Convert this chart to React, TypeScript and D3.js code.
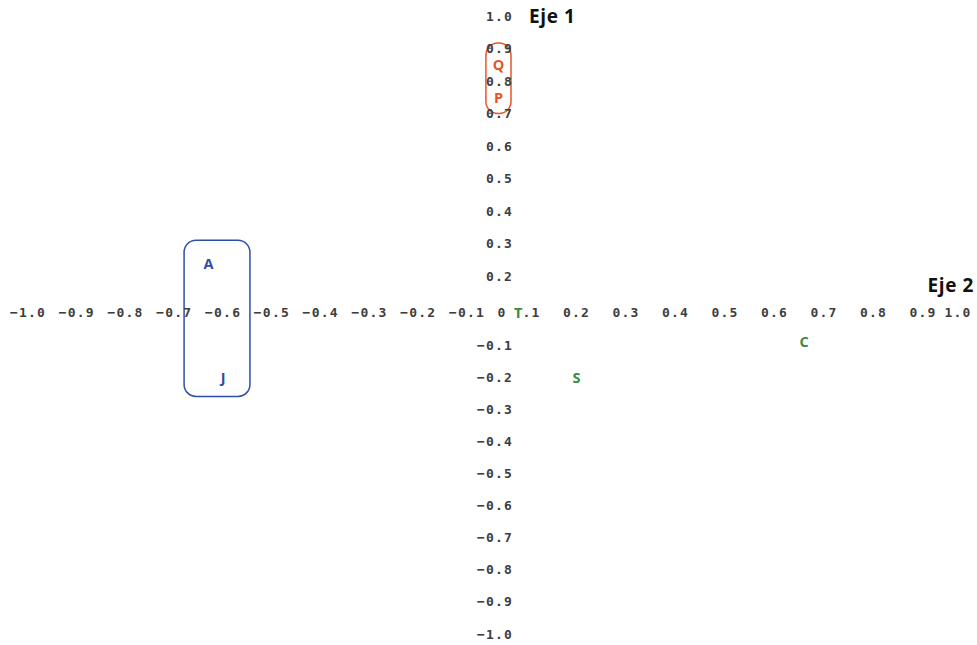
import React from 'react'
import * as d3 from 'd3'

// tick values shown on each axis (the y axis skips 0.1 and 0, which sit on the x row)
const xTicks = [-1.0, -0.9, -0.8, -0.7, -0.6, -0.5, -0.4, -0.3, -0.2, -0.1, 0, 0.1, 0.2, 0.3, 0.4, 0.5, 0.6, 0.7, 0.8, 0.9, 1.0]
const yTicks = [1.0, 0.9, 0.8, 0.7, 0.6, 0.5, 0.4, 0.3, 0.2, -0.1, -0.2, -0.3, -0.4, -0.5, -0.6, -0.7, -0.8, -0.9, -1.0]

// points of the factor plot
const pointNames = ['A', 'J', 'Q', 'P', 'T', 'S', 'C']
const pointX = [-0.63, -0.6, -0.01, -0.01, 0.065, 0.2, 0.66]
const pointY = [0.24, -0.2, 0.85, 0.75, 0, -0.2, -0.09]
const pointGroup = ['blue', 'blue', 'red', 'red', 'green', 'green', 'green']

// enclosing boxes, in axis units: [x0, x1, yTop, yBottom]
const boxGroup = ['blue', 'red']
const boxExtent = [
    [-0.68, -0.545, 0.31, -0.26],
    [-0.046, 0.036, 0.917, 0.7],
]

const colors = { blue: '#2f4ea6', red: '#e8552b', green: '#3a8c3f' }

const W = 977
const H = 645

const App = () => {
    // the labels are not evenly spaced in the original, so use piecewise scales
    const x = d3.scaleLinear()
        .domain([-1, -0.1, 0, 0.1, 0.9, 1])
        .range([28, 467, 502, 527, 923, 958])
    const y = d3.scaleLinear()
        .domain([1, 0.2, 0, -0.1, -1])
        .range([16, 276, 312, 345, 634])

    const fmt = (v: number) => (v === 0 ? '0' : d3.format('.1f')(v))
    const tickStyle = {
        fontFamily: '"DejaVu Sans Mono", monospace',
        fontSize: 13,
        fontWeight: 'bold' as const,
        letterSpacing: 1.2,
        fill: '#3d3d3d',
    }
    const titleStyle = {
        fontFamily: '"Open Sans", sans-serif',
        fontWeight: 'bold' as const,
        fontSize: 19,
        letterSpacing: 0.6,
        fill: '#111',
    }

    return (
        <div style={{ position: 'absolute', left: 0, top: 0 }}>
            <svg width={W} height={H} style={{ display: 'block', background: '#fff' }}>
                {boxExtent.map((b, i) => (
                    <rect key={'b' + i}
                        x={x(b[0])} y={y(b[2])}
                        width={x(b[1]) - x(b[0])} height={y(b[3]) - y(b[2])}
                        rx={12} ry={12}
                        fill="none" stroke={colors[boxGroup[i]]} strokeWidth={1.5} />
                ))}
                {xTicks.map(v => (
                    <text key={'x' + v} x={x(v)} y={y(0)} textAnchor="middle"
                        dominantBaseline="central" {...tickStyle}>{fmt(v)}</text>
                ))}
                {yTicks.map(v => (
                    <text key={'y' + v} x={513} y={y(v)} textAnchor="end"
                        dominantBaseline="central" {...tickStyle}>{fmt(v)}</text>
                ))}
                {pointNames.map((n, i) => (
                    <g key={n} transform={`translate(${x(pointX[i])},${y(pointY[i])})`}>
                        {/* white patch so the letter hides whatever tick label is under it */}
                        <rect x={-5.5} y={-7} width={11} height={14} fill="#fff" />
                        <text textAnchor="middle" dominantBaseline="central"
                            fill={colors[pointGroup[i]]}
                            fontFamily='"Open Sans", sans-serif' fontWeight="bold" fontSize={14.5}>{n}</text>
                    </g>
                ))}
                <text x={x(0) + 27} y={y(1)} dominantBaseline="central" {...titleStyle}>Eje 1</text>
                <text x={x(1) + 16} y={y(0) - 27} textAnchor="end" dominantBaseline="central" {...titleStyle}>Eje 2</text>
            </svg>
        </div>
    )
}

export default App
